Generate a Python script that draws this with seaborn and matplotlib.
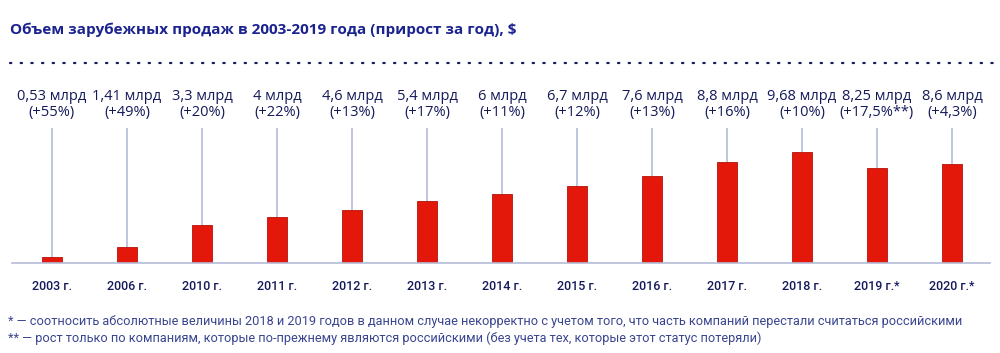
import matplotlib
matplotlib.use('Agg')
import matplotlib.pyplot as plt
import seaborn as sns
import pandas as pd

years = ['2003 г.', '2006 г.', '2010 г.', '2011 г.', '2012 г.', '2013 г.', '2014 г.',
         '2015 г.', '2016 г.', '2017 г.', '2018 г.', '2019 г.*', '2020 г.*']
values = [0.53, 1.41, 3.3, 4.0, 4.6, 5.4, 6.0, 6.7, 7.6, 8.8, 9.68, 8.25, 8.6]
value_labels = ['0,53 млрд', '1,41 млрд', '3,3 млрд', '4 млрд', '4,6 млрд', '5,4 млрд', '6 млрд',
                '6,7 млрд', '7,6 млрд', '8,8 млрд', '9,68 млрд', '8,25 млрд', '8,6 млрд']
growth = ['(+55%)', '(+49%)', '(+20%)', '(+22%)', '(+13%)', '(+17%)', '(+11%)',
          '(+12%)', '(+13%)', '(+16%)', '(+10%)', '(+17,5%**)', '(+4,3%)']

title = 'Объем зарубежных продаж в 2003-2019 года (прирост за год), $'
note1 = ('* — соотносить абсолютные величины 2018 и 2019 годов в данном случае некорректно '
         'с учетом того, что часть компаний перестали считаться российскими')
note2 = ('** — рост только по компаниям, которые по-прежнему являются российскими '
         '(без учета тех, которые этот статус потеряли)')

df = pd.DataFrame({'year': years, 'value': values})

sns.set_style('white')
plt.rcParams['font.family'] = ['Open Sans', 'DejaVu Sans']
narrow = ['Roboto', 'DejaVu Sans']

navy = '#14195a'
fig = plt.figure(figsize=(10, 3.53), dpi=100)
# axes: x 12..990 px, y baseline at 263 px, top at 80 px
ax = fig.add_axes([0.012, (353 - 263) / 353, 0.978, 183 / 353])

ax.vlines(range(len(values)), 0, 11.74, color='#b4bcd6', lw=1.2, zorder=0)
sns.barplot(data=df, x='year', y='value', color='#e3170a', width=0.27,
            edgecolor='#b51208', linewidth=0.6, saturation=1, ax=ax, zorder=2)

for i, (v, g) in enumerate(zip(value_labels, growth)):
    ax.text(i, 13.75, v + '\n' + g, ha='center', va='center', fontsize=10.5,
            color=navy, linespacing=1.05)

ax.set_xlim(-0.533, 12.507)
ax.set_ylim(0, 15.9)
ax.set_xlabel('')
ax.set_ylabel('')
ax.set_yticks([])
ax.tick_params(axis='x', length=0, pad=12, labelsize=9, labelcolor=navy)
for lbl in ax.get_xticklabels():
    lbl.set_family(narrow)
    lbl.set_fontweight('medium')
for s in ['top', 'right', 'left']:
    ax.spines[s].set_visible(False)
ax.spines['bottom'].set_color('#b4bcd6')
ax.spines['bottom'].set_linewidth(1.2)

fig.text(0.01, 1 - 30 / 353, title, fontsize=11, fontweight='bold', color='#1a238f',
         va='center', ha='left')
fig.add_artist(plt.Line2D([0.01, 1.0], [1 - 63 / 353] * 2, transform=fig.transFigure,
                          color=navy, lw=1.6, linestyle=(0, (0.6, 4.2)),
                          dash_capstyle='round'))

for txt, y in [(note1, 322), (note2, 338)]:
    fig.text(0.008, 1 - y / 353, txt, fontsize=9.2, color='#3a4590', va='center', ha='left',
             family=narrow)

fig.savefig('out.png', dpi=100)
